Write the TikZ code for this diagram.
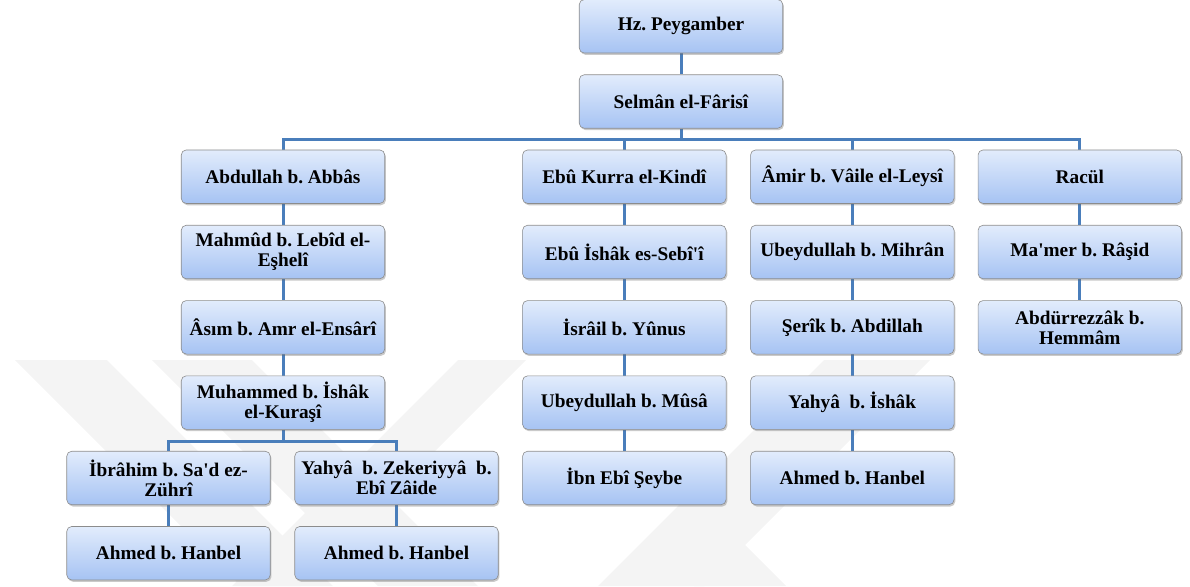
\documentclass[tikz,border=0pt]{standalone}
\usepackage{fontspec}
\setmainfont{Liberation Serif}
\frenchspacing
\usetikzlibrary{shadows,backgrounds}
\definecolor{topc}{HTML}{E2ECFC}
\definecolor{botc}{HTML}{A6C3F3}
\definecolor{linec}{HTML}{4A7EBB}
\definecolor{wm}{HTML}{F4F4F4}
\tikzset{
  box/.style={draw=black!45, line width=0.6pt, rounded corners=5pt,
    minimum width=203.5pt, minimum height=53.5pt, inner sep=1pt,
    top color=topc, bottom color=botc, align=center,
    font=\bfseries\fontsize{19.3}{20}\selectfont,
    drop shadow={shadow xshift=1.2pt, shadow yshift=-1.8pt, opacity=0.35, fill=black!60}},
  conn/.style={draw=linec, line width=3pt},
  wmark/.style={fill=wm, draw=none}
}
\begin{document}
\begin{tikzpicture}[x=1pt,y=-1pt]
\useasboundingbox (0,0) rectangle (1190,586);
% nodes
\node[box] (hz) at (681,26.3) {Hz. Peygamber};
\node[box] (sel) at (681,101.5) {Selmân el-Fârisî};
% column 1
\node[box] (abd) at (283,176.7) {Abdullah b. Abbâs};
\node[box] (mah) at (283,252) {Mahmûd b. Lebîd el-\\Eşhelî};
\node[box] (asim) at (283,327.3) {Âsım b. Amr el-Ensârî};
\node[box] (muh) at (283,402.6) {Muhammed b. İshâk\\el-Kuraşî};
\node[box] (ibr) at (168.5,478) {İbrâhim b. Sa\textquotesingle d ez-\\Zührî};
\node[box] (yahz) at (396.5,478) {Yahyâ\ \ b. Zekeriyyâ\ \ b.\\Ebî Zâide};
\node[box] (ah1) at (168.5,553.2) {Ahmed b. Hanbel};
\node[box] (ah2) at (396.5,553.2) {Ahmed b. Hanbel};
% column 2
\node[box] (ebuk) at (624.3,176.7) {Ebû Kurra el-Kindî};
\node[box] (ebui) at (624.3,252) {Ebû İshâk es-Sebî\textquotesingle î};
\node[box] (isr) at (624.3,327.3) {İsrâil b. Yûnus};
\node[box] (ubm) at (624.3,402.6) {Ubeydullah b. Mûsâ};
\node[box] (ibn) at (624.3,478) {İbn Ebî Şeybe};
% column 3
\node[box] (amir) at (852.3,176.7) {Âmir b. Vâile el-Leysî};
\node[box] (ubmi) at (852.3,252) {Ubeydullah b. Mihrân};
\node[box] (serik) at (852.3,327.3) {Şerîk b. Abdillah};
\node[box] (yahi) at (852.3,402.6) {Yahyâ\ \ b. İshâk};
\node[box] (ah3) at (852.3,478) {Ahmed b. Hanbel};
% column 4
\node[box] (rac) at (1079.8,176.7) {Racül};
\node[box] (mam) at (1079.8,252) {Ma\textquotesingle mer b. Râşid};
\node[box] (abdr) at (1079.8,327.3) {Abdürrezzâk b.\\Hemmâm};
\begin{scope}[on background layer]
% faint watermark
\fill[wmark] (15,360) -- (107,360) -- (333,586) -- (241,586) -- cycle;
\fill[wmark] (152,360) -- (252,360) -- (478,586) -- (378,586) -- cycle;
\fill[wmark] (458,360) -- (526,360) -- (300,586) -- (232,586) -- cycle;
\fill[wmark] (824,360) -- (930,360) -- (704,586) -- (598,586) -- cycle;
\fill[wmark] (740,540) -- (786,586) -- (694,586) -- cycle;
% connectors
\draw[conn] (hz.south) -- (sel.north);
\coordinate (bus) at (681,139.3);
\foreach \c in {abd,ebuk,amir,rac}{
  \draw[conn] (sel.south) -- (bus) -| (\c.north);
}
\draw[conn] (abd.south) -- (mah.north);
\draw[conn] (mah.south) -- (asim.north);
\draw[conn] (asim.south) -- (muh.north);
\coordinate (bus2) at (283,441);
\draw[conn] (muh.south) -- (bus2) -| (ibr.north);
\draw[conn] (muh.south) -- (bus2) -| (yahz.north);
\draw[conn] (ibr.south) -- (ah1.north);
\draw[conn] (yahz.south) -- (ah2.north);
\draw[conn] (ebuk.south) -- (ebui.north);
\draw[conn] (ebui.south) -- (isr.north);
\draw[conn] (isr.south) -- (ubm.north);
\draw[conn] (ubm.south) -- (ibn.north);
\draw[conn] (amir.south) -- (ubmi.north);
\draw[conn] (ubmi.south) -- (serik.north);
\draw[conn] (serik.south) -- (yahi.north);
\draw[conn] (yahi.south) -- (ah3.north);
\draw[conn] (rac.south) -- (mam.north);
\draw[conn] (mam.south) -- (abdr.north);
\end{scope}
\end{tikzpicture}
\end{document}
